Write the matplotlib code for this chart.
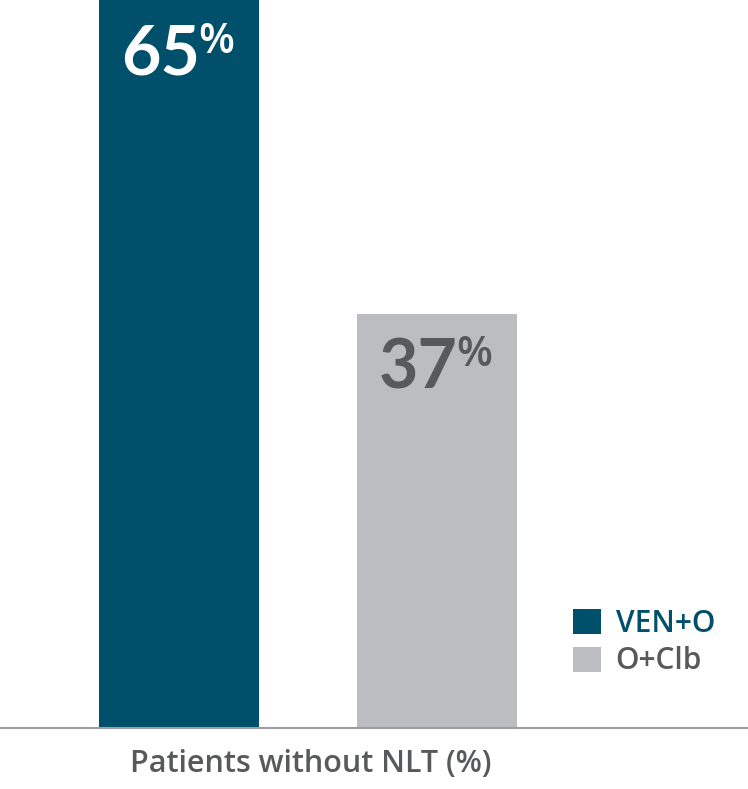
import matplotlib
matplotlib.use('Agg')
import matplotlib.pyplot as plt

plt.rcParams['font.family'] = ['Open Sans', 'DejaVu Sans']

# Données
groups = ['VEN+O', 'O+Clb']
values = [65, 37]
bar_colors = ['#01506b', '#bcbdc0']
value_colors = ['#ffffff', '#58595b']
legend_colors = ['#01506b', '#58595b']
xlabel = 'Patients without NLT (%)'

fig = plt.figure(figsize=(7.48, 7.89), dpi=100)
ax = fig.add_axes([0, 0.0773, 1, 0.9227])

x = list(range(len(values)))
bars = ax.bar(x, values, width=0.62, color=bar_colors, label=groups, zorder=2)

# Valeurs dans les barres, avec le % en exposant
for xi, v, c in zip(x, values, value_colors):
    ax.annotate(str(v), (xi, v), xytext=(15, -17), textcoords='offset points',
                ha='right', va='top', fontsize=49, fontweight='bold',
                family=['Lato', 'DejaVu Sans'], color=c)
    ax.annotate('%', (xi, v), xytext=(14, -15), textcoords='offset points',
                ha='left', va='top', fontsize=30, fontweight='semibold', color=c)

ax.set_xlim(-0.694, 2.205)
ax.set_ylim(0, 65)
ax.set_xticks([])
ax.set_yticks([])
for s in ['top', 'left', 'right']:
    ax.spines[s].set_visible(False)
ax.spines['bottom'].set_color('#9d9d9f')
ax.spines['bottom'].set_linewidth(1.5)
ax.spines['bottom'].set_zorder(3)

ax.set_xlabel(xlabel, fontsize=22, fontweight='semibold', color='#58595b',
              labelpad=15, x=0.416)

leg = ax.legend(handles=list(bars), labels=groups, loc='upper left',
                bbox_to_anchor=(573 / 748, 1 - 609 / 789), bbox_transform=fig.transFigure,
                frameon=False, handlelength=0.93, handleheight=0.93,
                handletextpad=0.5, labelspacing=0.25, borderpad=0, borderaxespad=0,
                labelcolor=legend_colors, prop={'size': 21.5, 'weight': 'semibold'})

fig.savefig('out.png', dpi=100)
